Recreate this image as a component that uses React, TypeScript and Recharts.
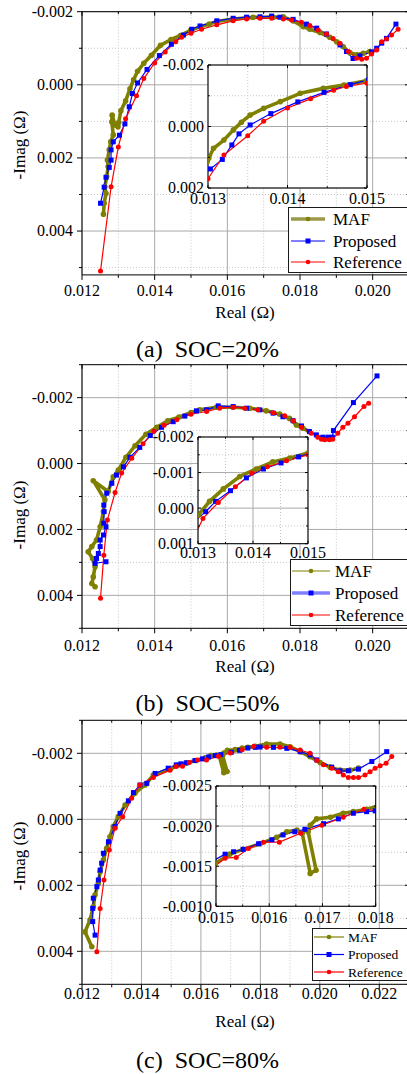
import { LineChart, Line, XAxis, YAxis, CartesianGrid } from "recharts";

type Pt = [number, number];

const OLIVE = "#808000";
const BLUE = "#0000ff";
const RED = "#ff0000";
const FONT = "'Liberation Serif', 'Times New Roman', Times, serif";

// ---- SOC = 20 % : [Real, Imag] in ohm ----
const mafA: Pt[] = [
  [0.01259, 0.00354], [0.01261, 0.00324], [0.01266, 0.00297], [0.01263, 0.00279],
  [0.01268, 0.00251], [0.01272, 0.00224], [0.0127, 0.00206], [0.01275, 0.00178],
  [0.01279, 0.00156], [0.01286, 0.00137], [0.01282, 0.00101], [0.01283, 0.00083],
  [0.01291, 0.0011], [0.01299, 0.00115], [0.01301, 0.00103], [0.01307, 0.00071],
  [0.0132, 0.00044], [0.01332, 0.00011], [0.01342, -0.00014], [0.01353, -0.00037],
  [0.0137, -0.00059], [0.01391, -0.00081], [0.01416, -0.00108], [0.01445, -0.00124],
  [0.01471, -0.00135], [0.01499, -0.00149], [0.01525, -0.00159], [0.0155, -0.00166],
  [0.01571, -0.00173], [0.01616, -0.0018], [0.01671, -0.00185], [0.01726, -0.00185],
  [0.01754, -0.00186], [0.01781, -0.00175], [0.01809, -0.00159], [0.01827, -0.00152],
  [0.01855, -0.00143], [0.01882, -0.0013], [0.01901, -0.00118], [0.01919, -0.00104],
  [0.01937, -0.00088], [0.01956, -0.00082], [0.01974, -0.00086], [0.01992, -0.00091],
];
const propA: Pt[] = [
  [0.01251, 0.00324], [0.01261, 0.0028], [0.01266, 0.00253], [0.01275, 0.00226],
  [0.0128, 0.00206], [0.0128, 0.00178], [0.01286, 0.00156], [0.01303, 0.00138],
  [0.01318, 0.00107], [0.0133, 0.0006], [0.01339, 0.00024], [0.01353, -0.00005],
  [0.01379, -0.00042], [0.01413, -0.0008], [0.01446, -0.00111], [0.01479, -0.00136],
  [0.01502, -0.00152], [0.01525, -0.00161], [0.01571, -0.00175], [0.01616, -0.00182],
  [0.01653, -0.00185], [0.0169, -0.00186], [0.01722, -0.00188], [0.01745, -0.00185],
  [0.01781, -0.00179], [0.01818, -0.00166], [0.01846, -0.00155], [0.01873, -0.00139],
  [0.0191, -0.00109], [0.01928, -0.00091], [0.01946, -0.00072], [0.01965, -0.00079],
  [0.01997, -0.0009], [0.02011, -0.001], [0.02025, -0.00114], [0.02038, -0.00127],
  [0.02064, -0.00166],
];
const refA: Pt[] = [
  [0.01251, 0.00509], [0.0128, 0.00279], [0.013, 0.0017], [0.0132, 0.00093],
  [0.0135, 0.0003], [0.0137, -0.00017], [0.014, -0.0006], [0.01429, -0.0009],
  [0.01458, -0.00118], [0.01474, -0.0013], [0.015, -0.00141], [0.01529, -0.00152],
  [0.01571, -0.00164], [0.01616, -0.00175], [0.01653, -0.0018], [0.0169, -0.00182],
  [0.01722, -0.00182], [0.01754, -0.0018], [0.01777, -0.00177], [0.01804, -0.00171],
  [0.01827, -0.00162], [0.0185, -0.0015], [0.01873, -0.00139], [0.01891, -0.00127],
  [0.0191, -0.00114], [0.01933, -0.00091], [0.01956, -0.00073], [0.0197, -0.0007],
  [0.01983, -0.00073], [0.01997, -0.00084], [0.02011, -0.00095], [0.02025, -0.00118],
  [0.02038, -0.00125], [0.02052, -0.00136], [0.0207, -0.00152],
];

// ---- SOC = 50 % ----
const mafB: Pt[] = [
  [0.01236, 0.00374], [0.01227, 0.00364], [0.01231, 0.00344], [0.01236, 0.00313],
  [0.01229, 0.00288], [0.01217, 0.00268], [0.01227, 0.00252], [0.0124, 0.00232],
  [0.0125, 0.00192], [0.01259, 0.00146], [0.01263, 0.0011], [0.01231, 0.00052],
  [0.01272, 0.00085], [0.01286, 0.0004], [0.013, 0.0002], [0.01321, -0.00019],
  [0.01346, -0.00054], [0.01376, -0.00089], [0.01406, -0.0011], [0.01436, -0.0013],
  [0.01467, -0.00141], [0.015, -0.00155], [0.01524, -0.00163], [0.0157, -0.00171],
  [0.01616, -0.00171], [0.01662, -0.00168], [0.01707, -0.0016], [0.01744, -0.0015],
  [0.01771, -0.00137], [0.0179, -0.00117], [0.01808, -0.00107], [0.01826, -0.00097],
];
const propB: Pt[] = [
  [0.01266, 0.00298], [0.01236, 0.00303], [0.0124, 0.00288], [0.01245, 0.00273],
  [0.0125, 0.00252], [0.0125, 0.00232], [0.01259, 0.00217], [0.01266, 0.00192],
  [0.0126, 0.00181], [0.01261, 0.00146], [0.0126, 0.00126], [0.01268, 0.0009],
  [0.01282, 0.0006], [0.01295, 0.00035], [0.01314, 0.0001], [0.01332, -0.00019],
  [0.01359, -0.00049], [0.01388, -0.00085], [0.01419, -0.0011], [0.01451, -0.00127],
  [0.01483, -0.00144], [0.01515, -0.0016], [0.01543, -0.00163], [0.01575, -0.00175],
  [0.01616, -0.00173], [0.01653, -0.00168], [0.01689, -0.00163], [0.01726, -0.00153],
  [0.01753, -0.00142], [0.01781, -0.0013], [0.01804, -0.00114], [0.01826, -0.00097],
  [0.01845, -0.00087], [0.01863, -0.0008], [0.01877, -0.0008], [0.01889, -0.0008],
  [0.01892, -0.001], [0.01947, -0.00185], [0.02012, -0.00266],
];
const refB: Pt[] = [
  [0.01251, 0.00409], [0.0126, 0.00278], [0.0127, 0.00171], [0.01291, 0.00088],
  [0.01309, 0.00029], [0.01337, -0.00016], [0.01368, -0.0006], [0.01398, -0.00098],
  [0.01426, -0.00116], [0.01461, -0.00133], [0.015, -0.0015], [0.01543, -0.00158],
  [0.01579, -0.00168], [0.01616, -0.00171], [0.01648, -0.00168], [0.01684, -0.00163],
  [0.01726, -0.00154], [0.01758, -0.00145], [0.01781, -0.0013], [0.01804, -0.0011],
  [0.01831, -0.00092], [0.01849, -0.0008], [0.01859, -0.00074], [0.01868, -0.00072],
  [0.01881, -0.00072], [0.0189, -0.00074], [0.01904, -0.00092], [0.01918, -0.0011],
  [0.01932, -0.00122], [0.0195, -0.00142], [0.01976, -0.00173], [0.01989, -0.00183],
];

// ---- SOC = 80 % ----
const mafC: Pt[] = [
  [0.01233, 0.00386], [0.0121, 0.00341], [0.01227, 0.00305], [0.01238, 0.00265],
  [0.01244, 0.00229], [0.01255, 0.00194], [0.01261, 0.00159], [0.01272, 0.00123],
  [0.01283, 0.00088], [0.01294, 0.00053], [0.01305, 0.00022], [0.01322, -0.00008],
  [0.01345, -0.00043], [0.01378, -0.00079], [0.01412, -0.00104], [0.0144, -0.00134],
  [0.01498, -0.00153], [0.01526, -0.00165], [0.01551, -0.00171], [0.01583, -0.00178],
  [0.01614, -0.00186], [0.01633, -0.00193], [0.01652, -0.00195], [0.01662, -0.00191],
  [0.01677, -0.00141], [0.01688, -0.00145], [0.01673, -0.00193], [0.01677, -0.00201],
  [0.01689, -0.00209], [0.01715, -0.00211], [0.01739, -0.00216], [0.01758, -0.00218],
  [0.01783, -0.00221], [0.01821, -0.00228], [0.01866, -0.00228], [0.019, -0.0022],
  [0.01934, -0.00205], [0.01967, -0.0019], [0.02001, -0.00172], [0.02035, -0.00158],
  [0.02068, -0.00149], [0.02102, -0.00149], [0.0213, -0.00155],
];
const propC: Pt[] = [
  [0.01244, 0.00351], [0.01236, 0.0031], [0.01236, 0.0027], [0.01238, 0.00239],
  [0.0125, 0.00204], [0.01255, 0.00184], [0.01261, 0.00154], [0.01266, 0.00133],
  [0.01272, 0.00103], [0.01289, 0.00068], [0.01311, 0.00022], [0.01328, -0.00018],
  [0.01356, -0.00056], [0.01373, -0.00081], [0.01395, -0.00104], [0.01418, -0.00109],
  [0.01446, -0.00139], [0.0149, -0.00155], [0.01517, -0.00165], [0.01533, -0.00168],
  [0.01551, -0.00171], [0.0158, -0.00178], [0.01605, -0.00183], [0.01626, -0.00189],
  [0.01648, -0.00193], [0.01667, -0.00196], [0.01702, -0.00203], [0.0173, -0.00209],
  [0.01758, -0.00216], [0.01783, -0.00218], [0.01799, -0.00219], [0.01844, -0.00218],
  [0.01889, -0.00215], [0.01934, -0.00205], [0.01967, -0.00195], [0.0199, -0.0018],
  [0.0204, -0.00158], [0.02068, -0.00147], [0.02096, -0.00147], [0.0213, -0.00152],
  [0.02175, -0.00175], [0.02225, -0.00205],
];
const refC: Pt[] = [
  [0.0125, 0.00401], [0.01261, 0.0027], [0.01274, 0.00184], [0.01292, 0.00093],
  [0.01311, 0.00027], [0.01337, -0.00008], [0.01367, -0.00064], [0.01395, -0.00104],
  [0.0144, -0.00127], [0.01496, -0.00149], [0.01517, -0.0016], [0.01538, -0.00161],
  [0.01561, -0.00172], [0.01589, -0.0018], [0.01619, -0.0018], [0.01659, -0.00191],
  [0.01699, -0.00201], [0.01739, -0.00211], [0.01778, -0.00221], [0.01821, -0.00218],
  [0.01866, -0.00218], [0.019, -0.00218], [0.01934, -0.0021], [0.01967, -0.002],
  [0.0199, -0.00178], [0.02012, -0.00165], [0.0204, -0.00155], [0.02062, -0.00144],
  [0.02079, -0.00134], [0.02096, -0.00127], [0.02113, -0.00127], [0.0213, -0.00127],
  [0.02152, -0.00134], [0.02169, -0.00144], [0.02186, -0.00155], [0.02203, -0.00162],
  [0.02223, -0.0017], [0.02242, -0.0019],
];

// ---- axis ticks ----
const xMajorAB = [0.012, 0.014, 0.016, 0.018, 0.02];
const xMinorAB = [0.013, 0.015, 0.017, 0.019, 0.021];
const xMajorC = [0.012, 0.014, 0.016, 0.018, 0.02, 0.022];
const xMinorC = [0.013, 0.015, 0.017, 0.019, 0.021, 0.023];
const yMajorMain = [-0.002, 0, 0.002, 0.004];
const yMinorA = [-0.001, 0.001, 0.003, 0.005];
const yMinorBC = [-0.003, -0.001, 0.001, 0.003, 0.005];

const insetXAB = [0.013, 0.014, 0.015];
const insetXABMinor = [0.0135, 0.0145];
const insetYA = [-0.002, 0, 0.002];
const insetYAMinor = [-0.001, 0.001];
const insetYB = [-0.002, -0.001, 0, 0.001];
const insetYBMinor = [-0.0015, -0.0005, 0.0005];
const insetXC = [0.015, 0.016, 0.017, 0.018];
const insetXCMinor = [0.0155, 0.0165, 0.0175];
const insetYC = [-0.0025, -0.002, -0.0015, -0.001];
const insetYCMinor = [-0.00225, -0.00175, -0.00125];

const rows = (pts: Pt[]) => pts.map(([x, y]) => ({ x, y }));
const near = (list: number[], v: number) => list.some((m) => Math.abs(m - v) < 1e-9);
const merge = (a: number[], b: number[]) => [...a, ...b].sort((p, q) => p - q);

// tick renderers; len < 0 points the tick into the plot
const leftTick = (majors: number[], digits: number, len: number, gap: number) => (p: any) => {
  const major = near(majors, p.payload.value);
  return (
    <g>
      <line x1={p.x} y1={p.y} x2={p.x - (major ? len : len * 0.6)} y2={p.y} stroke="#000" />
      {major && (
        <text x={p.x - gap} y={p.y} dy="0.34em" textAnchor="end" fontSize={16} fontFamily={FONT} fill="#000">
          {p.payload.value.toFixed(digits)}
        </text>
      )}
    </g>
  );
};
const bottomTick = (majors: number[], digits: number, len: number, gap: number) => (p: any) => {
  const major = near(majors, p.payload.value);
  return (
    <g>
      <line x1={p.x} y1={p.y} x2={p.x} y2={p.y + (major ? len : len * 0.6)} stroke="#000" />
      {major && (
        <text x={p.x} y={p.y + gap} dy="0.34em" textAnchor="middle" fontSize={16} fontFamily={FONT} fill="#000">
          {p.payload.value.toFixed(digits)}
        </text>
      )}
    </g>
  );
};
const rightTick = (majors: number[], len: number) => (p: any) => {
  const major = near(majors, p.payload.value);
  return <line x1={p.x} y1={p.y} x2={p.x - (major ? len : len * 0.6)} y2={p.y} stroke="#000" />;
};
const topTick = (majors: number[], len: number) => (p: any) => {
  const major = near(majors, p.payload.value);
  return <line x1={p.x} y1={p.y} x2={p.x} y2={p.y + (major ? len : len * 0.6)} stroke="#000" />;
};

const squareDot = (size: number) => (p: any) => {
  if (p.cx == null || p.cy == null) return <g key={`q${p.index}`} />;
  return <rect key={`q${p.index}`} x={p.cx - size / 2} y={p.cy - size / 2} width={size} height={size} fill={BLUE} />;
};

function seriesLines(maf: Pt[], prop: Pt[], ref: Pt[]) {
  return [
    <Line key="maf" data={rows(maf)} dataKey="y" stroke={OLIVE} strokeWidth={3.6} strokeLinejoin="round"
      dot={{ r: 2.8, fill: OLIVE, stroke: "none" }} isAnimationActive={false} />,
    <Line key="prop" data={rows(prop)} dataKey="y" stroke={BLUE} strokeWidth={1.2}
      dot={squareDot(5)} isAnimationActive={false} />,
    <Line key="ref" data={rows(ref)} dataKey="y" stroke={RED} strokeWidth={1.2}
      dot={{ r: 2.5, fill: RED, stroke: "none" }} isAnimationActive={false} />,
  ];
}

// axes need a non-zero thickness to be drawn, so each takes 1px of the margin
const AX = 1;

interface MainSpec {
  top: number;
  height: number;
  plotTop: number;
  plotBottom: number;
  xDomain: [number, number];
  yDomain: [number, number];
  xMajor: number[];
  xMinor: number[];
  yMinor: number[];
  xGap: number;
  maf: Pt[];
  prop: Pt[];
  ref: Pt[];
}

function MainPlot({ s }: { s: MainSpec }) {
  const W = 420;
  const L = 82;
  const R = 409;
  const xTicks = merge(s.xMajor, s.xMinor);
  const yTicks = merge(yMajorMain, s.yMinor);
  return (
    <div style={{ position: "absolute", left: 0, top: s.top }}>
      <LineChart width={W} height={s.height}
        margin={{ top: s.plotTop - AX, right: W - R - AX, bottom: s.height - s.plotBottom - AX, left: L - AX }}>
        <CartesianGrid verticalValues={s.xMinor} horizontalValues={s.yMinor} stroke="#c6c6c6" strokeDasharray="1 2" />
        <CartesianGrid verticalValues={s.xMajor} horizontalValues={yMajorMain} stroke="#a9a9a9" />
        <XAxis dataKey="x" type="number" domain={s.xDomain} allowDataOverflow ticks={xTicks} interval={0}
          height={AX} tickSize={0} tickMargin={0} tickLine={false} axisLine={{ stroke: "#000" }}
          tick={bottomTick(s.xMajor, 3, 5, s.xGap)} />
        <XAxis xAxisId="top" orientation="top" dataKey="x" type="number" domain={s.xDomain} allowDataOverflow
          ticks={xTicks} interval={0} height={AX} tickSize={0} tickMargin={0} tickLine={false}
          axisLine={{ stroke: "#000" }} tick={topTick(s.xMajor, 4)} />
        <YAxis type="number" reversed domain={s.yDomain} allowDataOverflow ticks={yTicks} interval={0}
          width={AX} tickSize={0} tickMargin={0} tickLine={false} axisLine={{ stroke: "#000" }}
          tick={leftTick(yMajorMain, 3, 5, 9)} />
        <YAxis yAxisId="right" orientation="right" type="number" reversed domain={s.yDomain} allowDataOverflow
          ticks={yTicks} interval={0} width={AX} tickSize={0} tickMargin={0} tickLine={false}
          axisLine={{ stroke: "#000" }} tick={rightTick(yMajorMain, 4)} />
        {seriesLines(s.maf, s.prop, s.ref)}
      </LineChart>
    </div>
  );
}

interface InsetSpec {
  left: number;
  right: number;
  top: number;
  bottom: number;
  xDomain: [number, number];
  yDomain: [number, number];
  xMajor: number[];
  xMinor: number[];
  yMajor: number[];
  yMinor: number[];
  yDigits: number;
  xGap: number;
  maf: Pt[];
  prop: Pt[];
  ref: Pt[];
}

function InsetPlot({ s }: { s: InsetSpec }) {
  const padL = 64;
  const padT = 14;
  const padR = 26;
  const padB = 24;
  const w = s.right - s.left + padL + padR;
  const h = s.bottom - s.top + padT + padB;
  const xTicks = merge(s.xMajor, s.xMinor);
  const yTicks = merge(s.yMajor, s.yMinor);
  return (
    <div style={{ position: "absolute", left: s.left - padL, top: s.top - padT }}>
      <LineChart width={w} height={h} margin={{ top: padT - AX, right: padR - AX, bottom: padB - AX, left: padL - AX }}>
        <CartesianGrid verticalValues={s.xMinor} horizontalValues={s.yMinor} stroke="#c6c6c6"
          strokeDasharray="1 2" fill="#fff" fillOpacity={1} />
        <CartesianGrid verticalValues={s.xMajor} horizontalValues={s.yMajor} stroke="#a9a9a9" />
        <XAxis dataKey="x" type="number" domain={s.xDomain} allowDataOverflow ticks={xTicks} interval={0}
          height={AX} tickSize={0} tickMargin={0} tickLine={false} axisLine={{ stroke: "#000" }}
          tick={bottomTick(s.xMajor, 3, -3, s.xGap)} />
        <XAxis xAxisId="top" orientation="top" dataKey="x" type="number" domain={s.xDomain} allowDataOverflow
          ticks={xTicks} interval={0} height={AX} tickSize={0} tickMargin={0} tickLine={false}
          axisLine={{ stroke: "#000" }} tick={topTick(s.xMajor, 3)} />
        <YAxis type="number" reversed domain={s.yDomain} allowDataOverflow ticks={yTicks} interval={0}
          width={AX} tickSize={0} tickMargin={0} tickLine={false} axisLine={{ stroke: "#000" }}
          tick={leftTick(s.yMajor, s.yDigits, -3, 4)} />
        <YAxis yAxisId="right" orientation="right" type="number" reversed domain={s.yDomain} allowDataOverflow
          ticks={yTicks} interval={0} width={AX} tickSize={0} tickMargin={0} tickLine={false}
          axisLine={{ stroke: "#000" }} tick={rightTick(s.yMajor, 3)} />
        {seriesLines(s.maf, s.prop, s.ref)}
      </LineChart>
    </div>
  );
}

interface LegendSpec {
  left: number;
  top: number;
  width: number;
  height: number;
  rowY: number[];
  x1: number;
  x2: number;
  textX: number;
  font: number;
  thickMaf: boolean;
  thickProp: boolean;
}

function LegendBox({ s }: { s: LegendSpec }) {
  const mid = (s.x1 + s.x2) / 2;
  const names = ["MAF", "Proposed", "Reference"];
  return (
    <div style={{
      position: "absolute", left: s.left, top: s.top, width: s.width, height: s.height,
      background: "#fff", border: "1px solid #1a1a1a", boxSizing: "border-box",
    }}>
      <svg width={s.width} height={s.height} style={{ position: "absolute", left: -1, top: -1 }}>
        <line x1={s.x1} x2={s.x2} y1={s.rowY[0]} y2={s.rowY[0]}
          stroke={s.thickMaf ? "#9a9a4a" : OLIVE} strokeWidth={s.thickMaf ? 3.5 : 1.2} />
        <circle cx={mid} cy={s.rowY[0]} r={2.3} fill={OLIVE} />
        <line x1={s.x1} x2={s.x2} y1={s.rowY[1]} y2={s.rowY[1]}
          stroke={s.thickProp ? "#8080ff" : BLUE} strokeWidth={s.thickProp ? 3.5 : 1.2} />
        <rect x={mid - 2.5} y={s.rowY[1] - 2.5} width={5} height={5} fill={BLUE} />
        <line x1={s.x1} x2={s.x2} y1={s.rowY[2]} y2={s.rowY[2]} stroke={RED} strokeWidth={1.2} />
        <circle cx={mid} cy={s.rowY[2]} r={2.3} fill={RED} />
        {names.map((n, i) => (
          <text key={n} x={s.textX} y={s.rowY[i]} dy="0.34em" fontSize={s.font} fontFamily={FONT} fill="#000">
            {n}
          </text>
        ))}
      </svg>
    </div>
  );
}

function Texts({ realY, imagY, captionY, caption }: { realY: number; imagY: number; captionY: number; caption: string }) {
  return (
    <>
      <div style={{ position: "absolute", left: 185, top: realY - 11, width: 120, height: 22, lineHeight: "22px", textAlign: "center", fontSize: 17 }}>
        Real (Ω)
      </div>
      <div style={{
        position: "absolute", left: 20 - 60, top: imagY - 11, width: 120, height: 22, lineHeight: "22px",
        textAlign: "center", fontSize: 17, transform: "rotate(-90deg)",
      }}>
        -Imag (Ω)
      </div>
      <div style={{ position: "absolute", left: 0, top: captionY - 16, width: 415, height: 32, lineHeight: "32px", textAlign: "center", fontSize: 24, whiteSpace: "pre" }}>
        {caption}
      </div>
    </>
  );
}

const panelA: MainSpec = {
  top: 0, height: 320, plotTop: 11.7, plotBottom: 274.9, xDomain: [0.012, 0.021], yDomain: [-0.002, 0.0052],
  xMajor: xMajorAB, xMinor: xMinorAB, yMinor: yMinorA, xGap: 16, maf: mafA, prop: propA, ref: refA,
};
const panelB: MainSpec = {
  top: 350, height: 320, plotTop: 14.7, plotBottom: 278.3, xDomain: [0.012, 0.021], yDomain: [-0.003, 0.005],
  xMajor: xMajorAB, xMinor: xMinorAB, yMinor: yMinorBC, xGap: 17, maf: mafB, prop: propB, ref: refB,
};
const panelC: MainSpec = {
  top: 700, height: 320, plotTop: 20.3, plotBottom: 284.3, xDomain: [0.012, 0.023], yDomain: [-0.003, 0.005],
  xMajor: xMajorC, xMinor: xMinorC, yMinor: yMinorBC, xGap: 9.5, maf: mafC, prop: propC, ref: refC,
};

const insetA: InsetSpec = {
  left: 207.7, right: 366.7, top: 65, bottom: 188, xDomain: [0.013, 0.015], yDomain: [-0.002, 0.002],
  xMajor: insetXAB, xMinor: insetXABMinor, yMajor: insetYA, yMinor: insetYAMinor, yDigits: 3, xGap: 11,
  maf: mafA, prop: propA, ref: refA,
};
const insetB: InsetSpec = {
  left: 198.3, right: 308.3, top: 437.3, bottom: 544, xDomain: [0.013, 0.015], yDomain: [-0.002, 0.001],
  xMajor: insetXAB, xMinor: insetXABMinor, yMajor: insetYB, yMinor: insetYBMinor, yDigits: 3, xGap: 9,
  maf: mafB, prop: propB, ref: refB,
};
const insetC: InsetSpec = {
  left: 216, right: 375.7, top: 785.7, bottom: 906, xDomain: [0.015, 0.018], yDomain: [-0.0025, -0.001],
  xMajor: insetXC, xMinor: insetXCMinor, yMajor: insetYC, yMinor: insetYCMinor, yDigits: 4, xGap: 11,
  maf: mafC, prop: propC, ref: refC,
};

const legendA: LegendSpec = {
  left: 288, top: 207, width: 130, height: 66, rowY: [12, 34, 55], x1: 3, x2: 37, textX: 45, font: 17,
  thickMaf: true, thickProp: false,
};
const legendB: LegendSpec = {
  left: 290, top: 559, width: 130, height: 67, rowY: [12, 34, 56], x1: 2, x2: 40, textX: 45, font: 17,
  thickMaf: false, thickProp: true,
};
const legendC: LegendSpec = {
  left: 312, top: 928, width: 110, height: 53, rowY: [9, 26.5, 44], x1: 2, x2: 32, textX: 36, font: 13.5,
  thickMaf: false, thickProp: false,
};

export default function App() {
  return (
    <div style={{
      position: "absolute", left: 0, top: 0, width: 407, height: 1074, overflow: "hidden",
      background: "#fff", fontFamily: FONT, color: "#000",
    }}>
      <MainPlot s={panelA} />
      <InsetPlot s={insetA} />
      <LegendBox s={legendA} />
      <Texts realY={313} imagY={144.6} captionY={349} caption="(a)  SOC=20%" />

      <MainPlot s={panelB} />
      <InsetPlot s={insetB} />
      <LegendBox s={legendB} />
      <Texts realY={667.3} imagY={514.6} captionY={703} caption="(b)  SOC=50%" />

      <MainPlot s={panelC} />
      <InsetPlot s={insetC} />
      <LegendBox s={legendC} />
      <Texts realY={1021.7} imagY={856} captionY={1060} caption="(c)  SOC=80%" />
    </div>
  );
}
